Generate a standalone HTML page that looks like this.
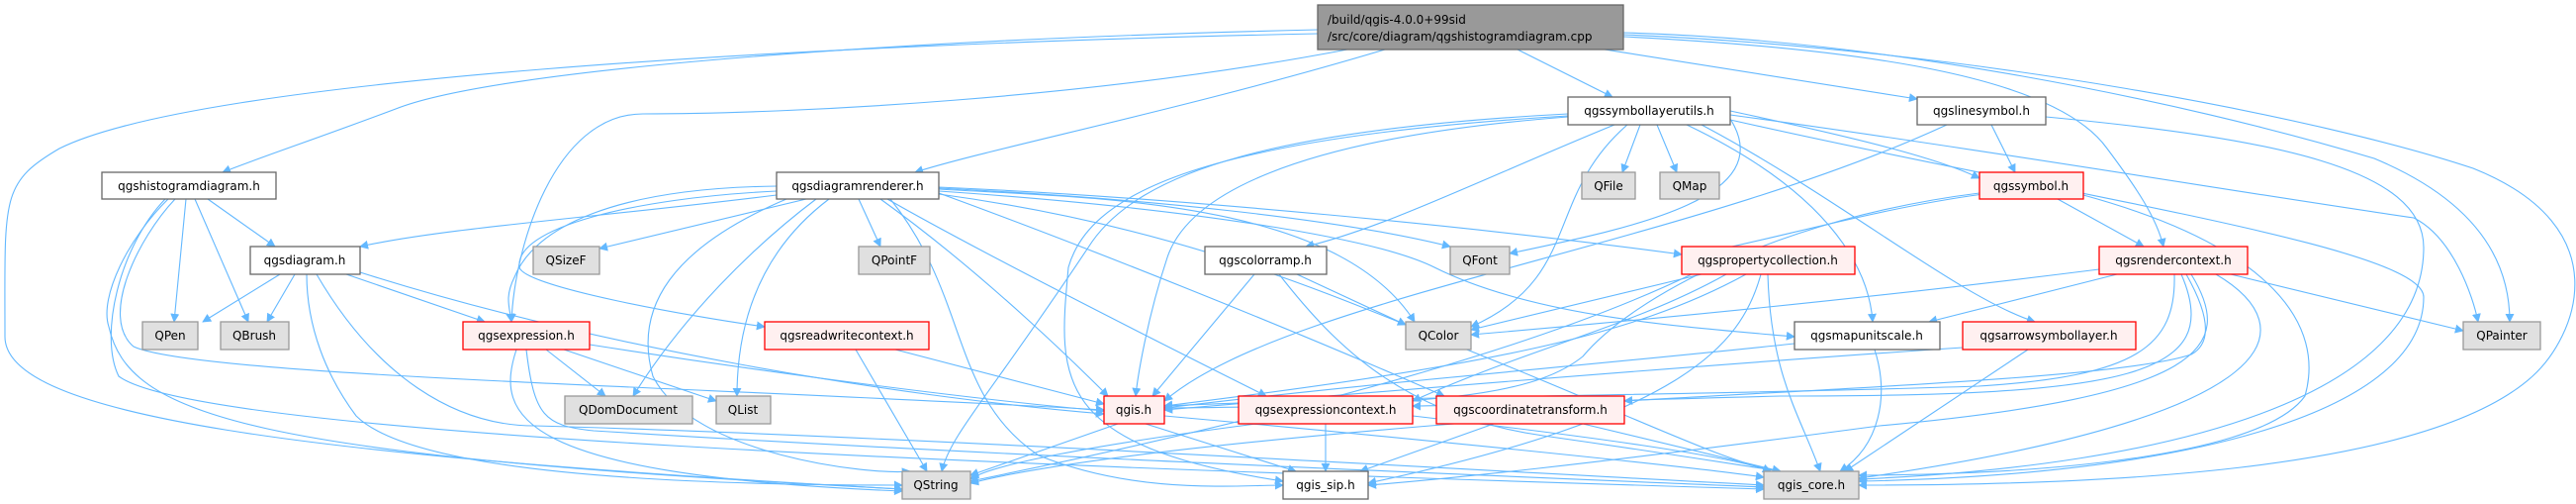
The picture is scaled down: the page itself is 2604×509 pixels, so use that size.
<!DOCTYPE html>
<html><head><meta charset="utf-8"><style>
html,body{margin:0;padding:0;background:#fff;width:2604px;height:509px;overflow:hidden}
svg{display:block}
text{font-family:"DejaVu Sans","Liberation Sans",sans-serif;font-size:12px;fill:#000}
.e{fill:none;stroke:#63b8ff;stroke-width:1.1}
.w{fill:#fff;stroke:#666;stroke-width:1.3}
.r{fill:#fff0f0;stroke:#ff0000;stroke-width:1.3}
.g{fill:#e0e0e0;stroke:#999;stroke-width:1.3}
.c{fill:#999;stroke:#666;stroke-width:1.3}
</style></head><body>
<svg width="2604" height="509" viewBox="0 0 2604 509" xmlns="http://www.w3.org/2000/svg">
<defs><marker id="a" viewBox="0 0 10 10" refX="9" refY="5" markerWidth="9" markerHeight="9" orient="auto" markerUnits="userSpaceOnUse"><path d="M0,0 L10,5 L0,10 z" fill="#63b8ff"/></marker></defs>
<g class="e" marker-end="url(#a)">
<!-- cpp -->
<path d="M1332,30 C900,40 500,70 400,110 C320,140 260,160 225,174"/>
<path d="M1332,34 C800,45 200,80 60,150 C0,185 5,200 5,340 C5,420 300,460 912,494"/>
<path d="M1362,50 C1100,100 800,115 650,115 C560,115 520,250 517,325"/>
<path d="M1400,50 C1200,110 1000,150 925,174"/>
<path d="M1534,50 L1630,98"/>
<path d="M1622,50 C1750,70 1880,90 1938,100"/>
<path d="M1641,37 C1900,50 2080,80 2130,150 C2160,190 2180,220 2187,249"/>
<path d="M1641,33 C1900,40 2200,100 2400,160 C2520,210 2537,280 2537,325"/>
<path d="M1641,35 C2000,50 2350,120 2500,170 C2650,230 2604,340 2560,380 C2450,480 2100,490 1879,490"/>
<!-- hist -->
<path d="M210,201 L278,249"/>
<path d="M188,201 L176,325"/>
<path d="M197,201 L251,325"/>
<path d="M170,201 C130,240 100,300 110,330 C130,420 250,460 912,494"/>
<path d="M177,201 C140,240 100,320 135,350 C200,380 700,390 1116,414"/>
<path d="M167,201 C120,250 100,340 120,380 C200,440 1000,470 1783,494"/>
<!-- diag -->
<path d="M283,277 L205,325"/>
<path d="M298,277 L270,325"/>
<path d="M350,277 L490,325"/>
<path d="M364,275 C600,350 900,400 1116,418"/>
<path d="M310,277 C310,330 330,380 360,420 C420,480 700,490 912,490"/>
<path d="M320,277 C380,380 460,430 540,430 C900,440 1400,470 1783,490"/>
<!-- dren -->
<path d="M785,197 C600,220 450,230 364,249"/>
<path d="M815,201 L606,251"/>
<path d="M868,201 L890,249"/>
<path d="M785,188 C620,190 540,230 520,280 C510,300 515,310 517,325"/>
<path d="M785,193 C640,200 520,230 525,270 C530,290 700,320 773,330"/>
<path d="M825,201 C760,250 690,320 640,400"/>
<path d="M838,201 C760,260 745,340 745,400"/>
<path d="M795,201 C680,250 640,310 660,380 C700,460 880,480 920,476"/>
<path d="M890,201 C1000,280 1100,380 1120,400"/>
<path d="M900,201 C980,300 960,400 1050,460 C1150,500 1250,490 1297,490"/>
<path d="M897,201 C1000,260 1200,360 1280,400"/>
<path d="M949,195 C1100,250 1300,330 1460,400"/>
<path d="M949,191 C1100,200 1350,200 1430,325"/>
<path d="M949,190 C1150,200 1350,220 1466,249"/>
<path d="M949,189 C1200,200 1500,230 1700,257"/>
<path d="M949,193 C1200,210 1390,240 1450,270 C1550,320 1700,330 1814,340"/>
<path d="M949,196 C1200,230 1350,300 1500,360 C1650,420 1750,470 1800,476"/>
<!-- expr -->
<path d="M552,353 L612,400"/>
<path d="M570,353 L724,405"/>
<path d="M596,348 C800,380 1000,405 1116,415"/>
<path d="M522,353 C500,420 520,480 912,496"/>
<path d="M532,353 C540,420 550,430 600,435 C1000,460 1500,480 1783,492"/>
<!-- rwc -->
<path d="M905,353 L1116,408"/>
<path d="M865,353 L937,476"/>
<!-- slu -->
<path d="M1658,126 L1640,174"/>
<path d="M1675,126 L1695,174"/>
<path d="M1632,126 C1500,180 1400,230 1320,249"/>
<path d="M1749,120 C1800,200 1650,230 1526,256"/>
<path d="M1645,126 C1560,200 1600,280 1487,330"/>
<path d="M1585,115 C1300,130 1150,170 1100,250 C1000,400 960,440 952,476"/>
<path d="M1585,118 C1300,140 1200,200 1180,260 C1160,320 1150,380 1148,400"/>
<path d="M1585,117 C1200,140 1100,200 1080,270 C1070,380 1060,450 1297,486"/>
<path d="M1749,112 C1880,140 1960,160 2001,180"/>
<path d="M1705,126 C1860,200 1890,280 1893,325"/>
<path d="M1720,126 C1860,200 1980,300 2057,325"/>
<path d="M1749,116 C2000,150 2300,200 2440,220 C2480,240 2500,300 2505,325"/>
<path d="M1749,121 C2100,200 2450,250 2450,300 C2450,420 2200,480 1879,486"/>
<!-- lsym -->
<path d="M2013,126 L2037,174"/>
<path d="M1968,126 C1700,250 1300,300 1177,405"/>
<path d="M2068,118 C2300,140 2450,170 2450,250 C2450,400 2200,470 1879,484"/>
<!-- sym -->
<path d="M2005,196 C1900,210 1800,240 1700,260"/>
<path d="M2080,201 L2167,249"/>
<path d="M2001,195 C1800,220 1650,300 1600,360 C1550,400 1450,410 1177,412"/>
<path d="M2106,197 C2300,250 2350,330 2330,400 C2280,470 2000,480 1879,480"/>
<!-- cramp -->
<path d="M1311,277 L1421,328"/>
<path d="M1268,277 L1165,400"/>
<path d="M1293,277 C1350,350 1420,420 1560,440 C1700,460 1760,470 1800,476"/>
<!-- pcol -->
<path d="M1720,277 L1487,333"/>
<path d="M1765,277 C1650,340 1500,370 1177,410"/>
<path d="M1745,277 C1650,330 1550,350 1428,405"/>
<path d="M1710,277 C1600,330 1400,400 981,486"/>
<path d="M1780,277 C1760,350 1700,420 1383,488"/>
<path d="M1787,277 C1790,380 1820,420 1840,476"/>
<!-- rctx -->
<path d="M2122,272 C1900,300 1700,320 1487,338"/>
<path d="M2140,277 L1950,325"/>
<path d="M2255,277 L2490,334"/>
<path d="M2198,277 C2200,350 2160,380 2000,390 C1700,400 1400,400 1177,410"/>
<path d="M2210,277 C2240,330 2230,350 2215,358 C2150,380 1900,390 1642,405"/>
<path d="M2205,277 C2250,380 2150,400 1800,400 C1600,405 1480,410 1428,410"/>
<path d="M2215,277 C2260,350 2230,400 1900,430 C1600,470 1450,485 1383,490"/>
<path d="M2240,277 C2330,330 2320,420 1879,483"/>
<!-- mus -->
<path d="M1814,347 C1600,370 1400,385 1177,412"/>
<path d="M1895,353 C1910,400 1900,450 1860,476"/>
<!-- arrow -->
<path d="M1984,351 C1700,370 1400,395 1177,414"/>
<path d="M2050,353 L1865,476"/>
<!-- qgis -->
<path d="M1130,428 L981,480"/>
<path d="M1158,428 L1310,476"/>
<path d="M1177,420 C1400,440 1700,470 1783,482"/>
<!-- exctx -->
<path d="M1270,428 C1100,450 1000,470 981,484"/>
<path d="M1340,428 L1340,476"/>
<path d="M1428,420 C1600,440 1750,460 1790,476"/>
<!-- ctrans -->
<path d="M1470,428 C1200,450 1050,470 981,488"/>
<path d="M1510,428 L1375,476"/>
<path d="M1600,428 L1800,476"/>
</g>
<!-- nodes -->
<rect class="c" x="1332" y="5" width="309" height="45"/>
<text x="1342" y="24">/build/qgis-4.0.0+99sid</text>
<text x="1342" y="41">/src/core/diagram/qgshistogramdiagram.cpp</text>
<g text-anchor="middle">
<rect class="w" x="103" y="174" width="176" height="27"/><text x="191" y="192">qgshistogramdiagram.h</text>
<rect class="w" x="253" y="249" width="111" height="28"/><text x="308" y="267">qgsdiagram.h</text>
<rect class="w" x="785" y="174" width="164" height="27"/><text x="867" y="192">qgsdiagramrenderer.h</text>
<rect class="w" x="1585" y="98" width="164" height="28"/><text x="1667" y="116">qgssymbollayerutils.h</text>
<rect class="w" x="1938" y="98" width="130" height="28"/><text x="2003" y="116">qgslinesymbol.h</text>
<rect class="g" x="1599" y="174" width="54" height="27"/><text x="1626" y="192">QFile</text>
<rect class="g" x="1678" y="174" width="60" height="27"/><text x="1708" y="192">QMap</text>
<rect class="r" x="2001" y="174" width="105" height="27"/><text x="2053" y="192">qgssymbol.h</text>
<rect class="g" x="539" y="249" width="67" height="28"/><text x="572" y="267">QSizeF</text>
<rect class="g" x="868" y="249" width="72" height="28"/><text x="904" y="267">QPointF</text>
<rect class="w" x="1218" y="249" width="123" height="28"/><text x="1279" y="267">qgscolorramp.h</text>
<rect class="g" x="1466" y="249" width="60" height="28"/><text x="1496" y="267">QFont</text>
<rect class="r" x="1700" y="249" width="175" height="28"/><text x="1787" y="267">qgspropertycollection.h</text>
<rect class="r" x="2122" y="249" width="150" height="28"/><text x="2197" y="267">qgsrendercontext.h</text>
<rect class="g" x="144" y="325" width="56" height="28"/><text x="172" y="343">QPen</text>
<rect class="g" x="223" y="325" width="69" height="28"/><text x="257" y="343">QBrush</text>
<rect class="r" x="468" y="325" width="128" height="28"/><text x="532" y="343">qgsexpression.h</text>
<rect class="r" x="773" y="325" width="166" height="28"/><text x="856" y="343">qgsreadwritecontext.h</text>
<rect class="g" x="1421" y="325" width="66" height="28"/><text x="1454" y="343">QColor</text>
<rect class="w" x="1814" y="325" width="147" height="28"/><text x="1887" y="343">qgsmapunitscale.h</text>
<rect class="r" x="1984" y="325" width="175" height="28"/><text x="2071" y="343">qgsarrowsymbollayer.h</text>
<rect class="g" x="2490" y="325" width="78" height="28"/><text x="2529" y="343">QPainter</text>
<rect class="g" x="571" y="400" width="129" height="28"/><text x="635" y="418">QDomDocument</text>
<rect class="g" x="724" y="400" width="55" height="28"/><text x="751" y="418">QList</text>
<rect class="r" x="1116" y="400" width="61" height="28"/><text x="1146" y="418">qgis.h</text>
<rect class="r" x="1252" y="400" width="176" height="28"/><text x="1340" y="418">qgsexpressioncontext.h</text>
<rect class="r" x="1452" y="400" width="190" height="28"/><text x="1547" y="418">qgscoordinatetransform.h</text>
<rect class="g" x="912" y="476" width="69" height="28"/><text x="946" y="494">QString</text>
<rect class="w" x="1297" y="476" width="86" height="28"/><text x="1340" y="494">qgis_sip.h</text>
<rect class="g" x="1783" y="476" width="96" height="28"/><text x="1831" y="494">qgis_core.h</text>
</g>
</svg>
</body></html>
